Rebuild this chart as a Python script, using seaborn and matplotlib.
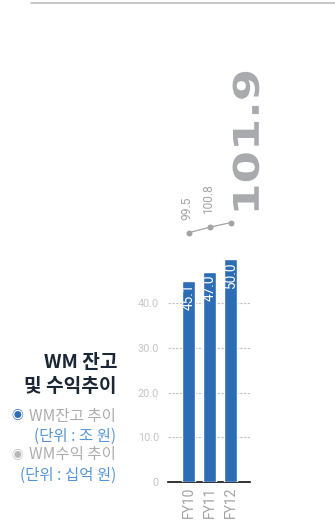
import matplotlib
matplotlib.use("Agg")
import matplotlib.pyplot as plt
from matplotlib.lines import Line2D
from matplotlib.patheffects import AbstractPathEffect
from matplotlib.transforms import Affine2D
import seaborn as sns

# ---- data ----
years = ["FY10", "FY11", "FY12"]
wm_balance = [45.1, 47.0, 50.0]        # WM 잔고 (조 원)
wm_income = [99.5, 100.8, 101.9]       # WM 수익 (십억 원)
y_ticks = [0, 10, 20, 30, 40]
y_tick_labels = ["0", "10.0", "20.0", "30.0", "40.0"]
title_lines = ["WM 잔고", "및 수익추이"]
legend_lines = ["WM잔고 추이", "(단위 : 조 원)", "WM수익 추이", "(단위 : 십억 원)"]


class WideText(AbstractPathEffect):
    """Widen glyphs along the reading direction (an expanded type face)."""

    def __init__(self, sx):
        super().__init__()
        self.sx = sx

    def draw_path(self, renderer, gc, tpath, affine, rgbFace=None):
        renderer.draw_path(gc, tpath, Affine2D().scale(self.sx, 1.0) + affine, rgbFace)


# ---- style ----
sns.set_style("white")
plt.rcParams["font.family"] = ["Roboto", "DejaVu Sans"]
KR = ["Noto Sans CJK KR", "DejaVu Sans"]

BAR_BLUE = "#2c6db5"
LINE_GRAY = "#a3a3a3"
BIG_GRAY = "#a8aaad"
TICK_GRAY = "#c6c6c6"
CAT_GRAY = "#a2a2a2"
TEXT_GRAY = "#adadad"
UNIT_BLUE = "#5796d6"
TITLE_NAVY = "#1c2736"

W, H = 335, 528
fig = plt.figure(figsize=(W / 100, H / 100), dpi=100)


def fx(px):
    return px / W


def fy(py):
    return 1 - py / H


ax = fig.add_axes([fx(168), fy(482), fx(250) - fx(168), fy(205) - fy(482)])
ax2 = ax.twinx()

# bars: WM balance
sns.barplot(x=years, y=wm_balance, ax=ax, color=BAR_BLUE, saturation=1,
            width=0.62, errorbar=None, zorder=3)

# line: WM income
sns.pointplot(x=years, y=wm_income, ax=ax2, color=LINE_GRAY, errorbar=None,
              markersize=3.6, linewidth=0.9)

ax.set_xlim(-0.99, 2.92)
ax.set_ylim(0, 62)
ax2.set_ylim(40.29, 106.08)

# y axis ticks / grid
ax.set_yticks(y_ticks)
ax.set_yticklabels(y_tick_labels)
ax.tick_params(axis="y", length=0, pad=6.5, labelsize=7.8, labelcolor=TICK_GRAY)
for t in y_ticks[1:]:
    ax.axhline(t, color="#c4c4c4", lw=0.8, ls=(0, (2.2, 1.2)), zorder=1)

# x axis categories
ax.set_xticks(range(len(years)))
ax.set_xticklabels(years, rotation=90, va="top", ha="center")
ax.tick_params(axis="x", length=0, pad=3.5, labelsize=10, labelcolor=CAT_GRAY)
ax.set_xlabel("")
ax.set_ylabel("")
ax2.set_ylabel("")
ax2.set_yticks([])
ax2.tick_params(axis="x", bottom=False, labelbottom=False)

for sp in ["top", "right", "left"]:
    ax.spines[sp].set_visible(False)
ax.spines["bottom"].set_color("#111111")
ax.spines["bottom"].set_linewidth(1.2)
for sp in ax2.spines.values():
    sp.set_visible(False)

# value labels inside bars
for i, v in enumerate(wm_balance):
    ax.annotate(f"{v:.1f}", xy=(i, v), xytext=(0, -2.0), textcoords="offset points",
                rotation=90, ha="center", va="top", color="white",
                fontsize=9.8, zorder=4)

# income labels above points, the latest one emphasised
for i, v in enumerate(wm_income[:-1]):
    ax2.annotate(f"{v:.1f}", xy=(i, v), xytext=(-1.0, 9.5), textcoords="offset points",
                 rotation=90, ha="center", va="bottom", color=LINE_GRAY,
                 fontsize=8.6)
last = len(wm_income) - 1
ax2.annotate(f"{wm_income[last]:.1f}", xy=(last, wm_income[last]), xytext=(0.8, 5.0),
             textcoords="offset points", rotation=90, ha="left", va="bottom",
             color=BIG_GRAY, fontsize=25.5, fontweight="bold", family="DejaVu Sans",
             path_effects=[WideText(1.31)])

# title and legend block on the left
fig.text(fx(117), fy(362), title_lines[0], ha="right", va="center", fontsize=13.8,
         fontweight="bold", color=TITLE_NAVY, family=KR)
fig.text(fx(117), fy(387), title_lines[1], ha="right", va="center", fontsize=13.8,
         fontweight="bold", color=TITLE_NAVY, family=KR)

legend_y = [416, 436, 455, 475]
legend_colors = [TEXT_GRAY, UNIT_BLUE, TEXT_GRAY, UNIT_BLUE]
for txt, yy, col in zip(legend_lines, legend_y, legend_colors):
    fig.text(fx(116), fy(yy), txt, ha="right", va="center", fontsize=11.2,
             fontweight="medium", color=col, family=KR)
fig.text(fx(17), fy(416), "◉", ha="center", va="center", fontsize=8.5,
         color=BAR_BLUE, family=KR)
fig.text(fx(17), fy(455), "◉", ha="center", va="center", fontsize=8.5,
         color="#b8b8b8", family=KR)

# rule across the top
fig.add_artist(Line2D([fx(31), 1.0], [fy(3), fy(3)], color="#bdbdbd", lw=1.2))

fig.savefig("out.png", dpi=100)
